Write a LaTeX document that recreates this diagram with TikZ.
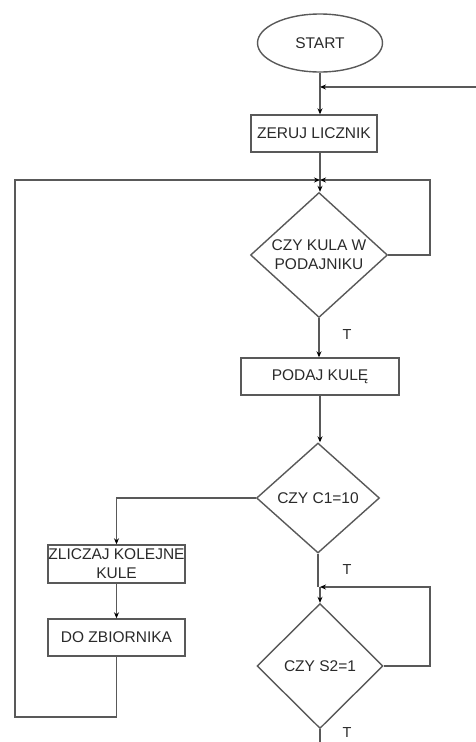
\documentclass[tikz,border=0pt]{standalone}
\usepackage{fontspec}
\setmainfont{Liberation Sans}
\usetikzlibrary{shapes.geometric,arrows.meta}
\definecolor{ln}{HTML}{595959}
\definecolor{tx}{HTML}{2A2A2A}
\begin{document}
\begin{tikzpicture}[x=1pt,y=-1pt,
  every node/.style={text=tx,font=\fontsize{15.5}{19}\selectfont},
  line/.style={draw=ln,line width=1.4pt},
  arr/.style={line,-{Stealth[length=6pt,width=5pt,color=black]}},
  box/.style={draw=ln,line width=1.4pt,rectangle,inner sep=0pt,align=center},
  dia/.style={draw=ln,line width=1.4pt,diamond,inner sep=0pt,align=center},
  lbl/.style={font=\fontsize{14.5}{17}\selectfont}]
\useasboundingbox[fill=white] (0,0) rectangle (476,742);
\node[draw=ln,line width=1.4pt,ellipse,minimum width=125pt,minimum height=58pt,inner sep=0pt] (start) at (320,43) {START};
\node[box,minimum width=126pt,minimum height=37pt] (zeruj) at (314,133.5) {ZERUJ LICZNIK};
\node[dia,minimum width=137pt,minimum height=125pt] (d1) at (319,255) {CZY KULA W\\PODAJNIKU};
\node[box,minimum width=158pt,minimum height=37pt] (podaj) at (320,376.5) {PODAJ KULĘ};
\node[dia,minimum width=123pt,minimum height=110pt] (d2) at (318,498) {CZY C1=10};
\node[box,minimum width=137pt,minimum height=38pt] (zlicz) at (116.5,564) {ZLICZAJ KOLEJNE\\KULE};
\node[box,minimum width=137pt,minimum height=37pt] (zbior) at (116.5,637.5) {DO ZBIORNIKA};
\node[dia,minimum width=126pt,minimum height=125pt] (d3) at (320,666) {CZY S2=1};
\coordinate (j0) at (320,87);
\coordinate (e0) at (476,87);
\coordinate (j1) at (320,180);
\coordinate (l1) at (15,180);
\coordinate (r1) at (430,180);
\coordinate (j2) at (320,587);
\coordinate (r2) at (430,587);
\coordinate (b2) at (15,717);
\coordinate (end) at (320,742);
\draw[line] (start.south -| j0) -- (j0);
\draw[arr] (e0) -- (j0);
\draw[arr] (j0) -- (j0 |- zeruj.north);
\draw[line] (zeruj.south -| j1) -- (j1);
\draw[arr] (j1) -- (j1 |- d1.north);
\draw[arr] (d1.east) -- (d1.east -| r1) -- (r1) -- (j1);
\draw[arr] (zbior.south) -- (zbior.south |- b2) -- (b2) -- (l1) -- (j1);
\draw[arr] (d1.south) -- (d1.south |- podaj.north);
\node[lbl] (t1) at (347,335) {T};
\draw[arr] (podaj.south) -- (podaj.south |- d2.north);
\draw[arr] (d2.west) -| (zlicz.north);
\draw[arr] (zlicz.south) -- (zbior.north);
\draw[line] (d2.south) -- (d2.south |- j2);
\node[lbl] (t2) at (347,570) {T};
\draw[arr] (j2) -- (d3.north);
\draw[arr] (d3.east) -- (d3.east -| r2) -- (r2) -- (j2);
\draw[line] (d3.south) -- (end);
\node[lbl] (t3) at (347,733) {T};
\end{tikzpicture}
\end{document}
